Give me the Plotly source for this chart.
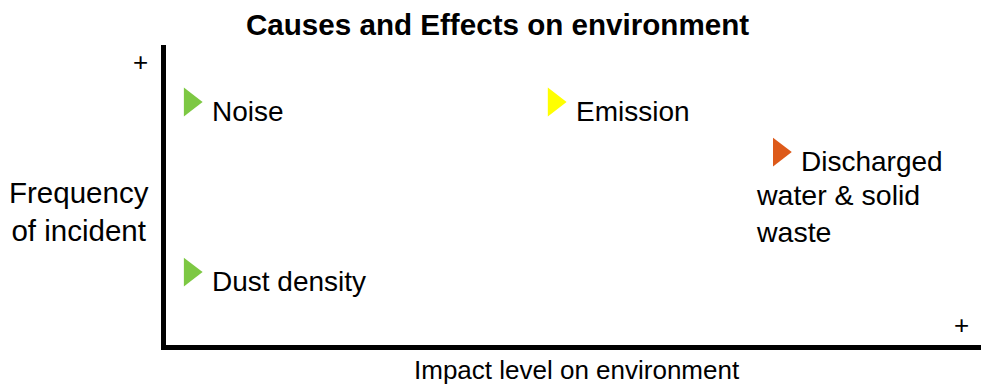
import plotly.graph_objects as go

# impact level (x) and frequency of incident (y), 0-100 scale
labels = ["Noise", "Emission", "Discharged", "Dust density"]
impact = [2.9, 46.7, 73.8, 2.9]
frequency = [81.0, 81.0, 64.3, 24.3]
colors = ["#7dc843", "#ffff00", "#dd5a1a", "#7dc843"]

FONT = "Liberation Sans, Arial"
font = dict(family=FONT, size=28, color="black")

fig = go.Figure()
fig.add_trace(go.Scatter(
    x=impact, y=frequency, mode="markers",
    marker=dict(symbol="triangle-right", size=25, color=colors, line=dict(width=0)),
    hoverinfo="text", text=labels, showlegend=False,
))

for lab, xi, yi in zip(labels, impact, frequency):
    fig.add_annotation(x=xi, y=yi, text=lab, showarrow=False, xanchor="left",
                       yanchor="middle", xshift=20, yshift=-9, font=font)
# continuation lines of the discharged label
fig.add_annotation(x=impact[2], y=frequency[2], text="water & solid<br>waste",
                   showarrow=False, xanchor="left", yanchor="middle", align="left",
                   xshift=-25, yshift=-61, font=dict(family=FONT, size=28.5, color="black"))

fig.add_annotation(x=0, y=1, xref="paper", yref="paper", text="+", showarrow=False,
                   xshift=-35, yshift=0, font=dict(family=FONT, size=26, color="black"))
fig.add_annotation(x=1, y=0, xref="paper", yref="paper", text="+", showarrow=False,
                   xshift=-26, yshift=3, font=dict(family=FONT, size=26, color="black"))
fig.add_annotation(x=0, y=0.5, xref="paper", yref="paper", text="Frequency<br>of incident",
                   showarrow=False, xanchor="center", yanchor="middle",
                   xshift=-87, yshift=-16, font=dict(family=FONT, size=29.5, color="black"))
fig.add_annotation(x=0.5, y=0, xref="paper", yref="paper", text="Impact level on environment",
                   showarrow=False, xanchor="center", yanchor="middle", xshift=-5, yshift=-25,
                   font=dict(family=FONT, size=26, color="black"))

fig.update_layout(
    width=989, height=385,
    margin=dict(l=158, r=0, t=37, b=48),
    paper_bgcolor="white", plot_bgcolor="white",
    title=dict(text="<b>Causes and Effects on environment</b>", x=0.495, xanchor="center",
               y=0.956, yanchor="middle", font=dict(family=FONT, size=29.6, color="black")),
    xaxis=dict(range=[0, 100], showgrid=False, zeroline=False, showticklabels=False,
               showline=True, linewidth=5, linecolor="black"),
    yaxis=dict(range=[0, 100], showgrid=False, zeroline=False, showticklabels=False,
               showline=True, linewidth=5, linecolor="black"),
)

fig.write_html("out.html")
